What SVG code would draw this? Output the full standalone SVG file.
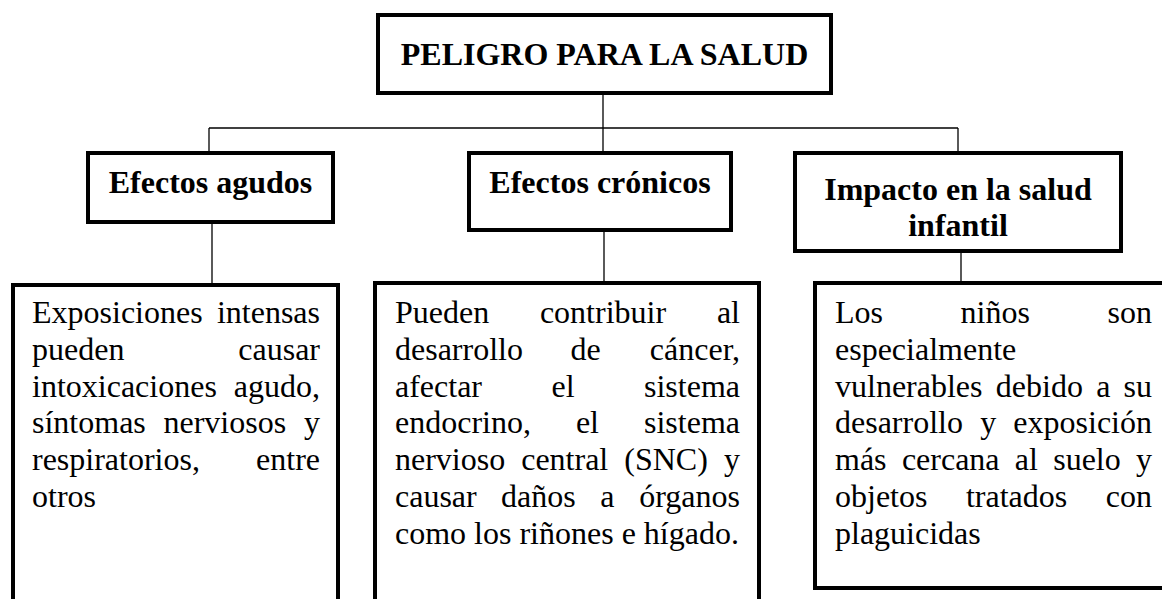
<svg xmlns="http://www.w3.org/2000/svg" width="1162" height="599" viewBox="0 0 1162 599">
<style>
.box{fill:#fff;stroke:#000;stroke-width:4}
.con{stroke:#000;stroke-width:1.3;fill:none}
.h{font-family:"Liberation Serif","Times New Roman",serif;font-size:32px;font-weight:bold;fill:#000;text-anchor:middle}
.t{font-family:"Liberation Serif","Times New Roman",serif;font-size:32px;fill:#000}
.e{text-anchor:end}
</style>
<rect width="1162" height="599" fill="#fff"/>
<g id="connectors">
<line class="con" x1="603" y1="95" x2="603" y2="128"/>
<line class="con" x1="209" y1="128" x2="958" y2="128"/>
<line class="con" x1="209" y1="128" x2="209" y2="151"/>
<line class="con" x1="603" y1="128" x2="603" y2="151"/>
<line class="con" x1="958" y1="128" x2="958" y2="151"/>
<line class="con" x1="212" y1="224" x2="212" y2="283"/>
<line class="con" x1="604" y1="232" x2="604" y2="281"/>
<line class="con" x1="961" y1="253" x2="961" y2="281"/>
</g>
<g id="peligro">
<rect class="box" x="378" y="15" width="453" height="78"/>
<text class="h" x="604.5" y="65">PELIGRO PARA LA SALUD</text>
</g>
<g id="agudos">
<rect class="box" x="88" y="153" width="245" height="69"/>
<text class="h" x="210.5" y="193">Efectos agudos</text>
</g>
<g id="cronicos">
<rect class="box" x="469" y="153" width="262" height="77"/>
<text class="h" x="600" y="193">Efectos crónicos</text>
</g>
<g id="impacto">
<rect class="box" x="795" y="153" width="326" height="98"/>
<text class="h" x="958" y="200">Impacto en la salud</text>
<text class="h" x="958" y="236">infantil</text>
</g>
<g id="agudos-detalle">
<rect class="box" x="13" y="285" width="325" height="330"/>
<text class="t" x="32" y="323">Exposiciones</text><text class="t e" x="320" y="323">intensas</text>
<text class="t" x="32" y="360">pueden</text><text class="t e" x="320" y="360">causar</text>
<text class="t" x="32" y="397">intoxicaciones</text><text class="t e" x="320" y="397">agudo,</text>
<text class="t" x="32" y="433">síntomas</text><text class="t" x="163.5" y="433">nerviosos</text><text class="t e" x="320" y="433">y</text>
<text class="t" x="32" y="470">respiratorios,</text><text class="t e" x="320" y="470">entre</text>
<text class="t" x="32" y="507">otros</text>
</g>
<g id="cronicos-detalle">
<rect class="box" x="375" y="283" width="384" height="330"/>
<text class="t" x="395" y="323">Pueden</text><text class="t" x="539.9" y="323">contribuir</text><text class="t e" x="740" y="323">al</text>
<text class="t" x="395" y="360">desarrollo</text><text class="t" x="570.6" y="360">de</text><text class="t e" x="740" y="360">cáncer,</text>
<text class="t" x="395" y="397">afectar</text><text class="t" x="551.5" y="397">el</text><text class="t e" x="740" y="397">sistema</text>
<text class="t" x="395" y="433">endocrino,</text><text class="t" x="575.9" y="433">el</text><text class="t e" x="740" y="433">sistema</text>
<text class="t" x="395" y="470">nervioso</text><text class="t" x="521.2" y="470">central</text><text class="t" x="624.3" y="470">(SNC)</text><text class="t e" x="740" y="470">y</text>
<text class="t" x="395" y="507">causar</text><text class="t" x="501.1" y="507">daños</text><text class="t" x="600.2" y="507">a</text><text class="t e" x="740" y="507">órganos</text>
<text class="t" x="395" y="544">como los riñones e hígado.</text>
</g>
<g id="impacto-detalle">
<rect class="box" x="815" y="283" width="360" height="305"/>
<text class="t" x="835" y="323">Los</text><text class="t" x="960.6" y="323">niños</text><text class="t e" x="1152" y="323">son</text>
<text class="t" x="835" y="360">especialmente</text>
<text class="t" x="835" y="397">vulnerables</text><text class="t" x="995.8" y="397">debido</text><text class="t" x="1096.2" y="397">a</text><text class="t e" x="1152" y="397">su</text>
<text class="t" x="835" y="433">desarrollo</text><text class="t" x="980.2" y="433">y</text><text class="t e" x="1152" y="433">exposición</text>
<text class="t" x="835" y="470">más</text><text class="t" x="901.9" y="470">cercana</text><text class="t" x="1014.8" y="470">al</text><text class="t" x="1053.2" y="470">suelo</text><text class="t e" x="1152" y="470">y</text>
<text class="t" x="835" y="507">objetos</text><text class="t" x="965.9" y="507">tratados</text><text class="t e" x="1152" y="507">con</text>
<text class="t" x="835" y="544">plaguicidas</text>
</g>
</svg>
